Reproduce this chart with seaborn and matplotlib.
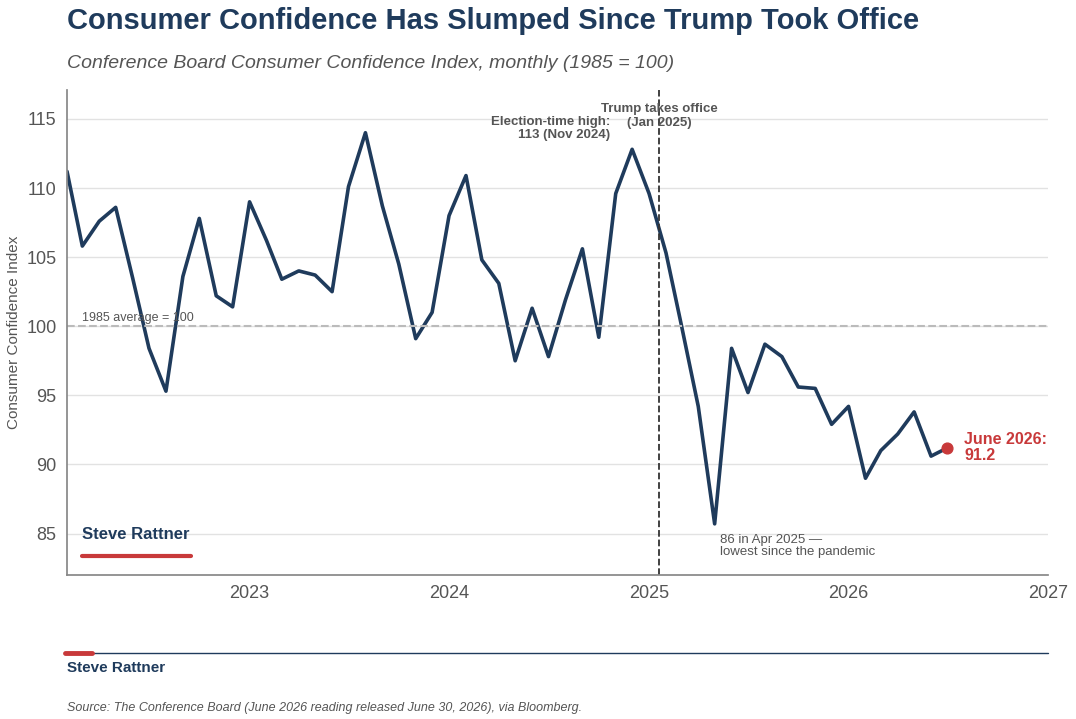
import pandas as pd
import numpy as np
import matplotlib.pyplot as plt
import matplotlib.dates as mdates
import seaborn as sns

NAVY = '#1f3b5c'
RED = '#c8393a'
GREY = '#555555'

# monthly readings, Feb 2022 onward
values = [111.2, 105.8, 107.6, 108.6, 103.5, 98.4, 95.3, 103.6, 107.8, 102.2, 101.4,
          109.0, 106.2, 103.4, 104.0, 103.7, 102.5, 110.1, 114.0, 108.7, 104.5, 99.1, 101.0,
          108.0, 110.9, 104.8, 103.1, 97.5, 101.3, 97.8, 101.9, 105.6, 99.2, 109.6, 112.8,
          109.6, 105.3, 100.1, 94.2, 85.7, 98.4, 95.2, 98.7, 97.8, 95.6, 95.5, 92.9,
          94.2, 89.0, 91.0, 92.2, 93.8, 90.6, 91.2]
dates = pd.date_range('2022-02-01', periods=len(values), freq='MS')
df = pd.DataFrame({'date': dates, 'index': values})

sns.set_theme(style='white')
plt.rcParams['font.family'] = ['Liberation Sans', 'DejaVu Sans']

fig = plt.figure(figsize=(10.76, 7.19), dpi=100)
ax = fig.add_axes([0.0623, 0.2003, 0.9117, 0.6747])

sns.lineplot(data=df, x='date', y='index', ax=ax, color=NAVY, linewidth=2.6)

ax.set_xlim(pd.Timestamp('2022-02-01'), pd.Timestamp('2027-01-01'))
ax.set_ylim(82.0, 117.1)
ax.set_yticks([85, 90, 95, 100, 105, 110, 115])
ax.xaxis.set_major_locator(mdates.YearLocator())
ax.xaxis.set_major_formatter(mdates.DateFormatter('%Y'))
ax.tick_params(axis='both', labelsize=13, colors='#555555', length=4)
ax.set_xlabel('')
ax.set_ylabel('Consumer Confidence Index', fontsize=11, color='#555555')
ax.grid(axis='y', color='#e2e2e2', linewidth=1)
for s in ['top', 'right']:
    ax.spines[s].set_visible(False)
for s in ['left', 'bottom']:
    ax.spines[s].set_color('#888888')

ax.axhline(100, color='#bbbbbb', linestyle='--', linewidth=1.5)
ax.text(pd.Timestamp('2022-03-01'), 100.4, '1985 average = 100', fontsize=9, color=GREY)

office = pd.Timestamp('2025-01-20')
ax.axvline(office, color='#333333', linestyle='--', linewidth=1.3)
ax.text(office, 114.5, 'Trump takes office\n(Jan 2025)', ha='center', fontsize=9.5,
        color=GREY, fontweight='bold', linespacing=1.15)
ax.text(pd.Timestamp('2024-10-22'), 113.6, 'Election-time high:\n113 (Nov 2024)', ha='right',
        fontsize=9.5, color=GREY, fontweight='bold', linespacing=1.15)
ax.text(pd.Timestamp('2025-05-10'), 85.0, '86 in Apr 2025 \u2014\nlowest since the pandemic',
        fontsize=9.5, color=GREY, va='top', linespacing=1.1)

ax.scatter(df['date'].iloc[-1], values[-1], color=RED, s=60, zorder=5)
ax.text(pd.Timestamp('2026-08-01'), values[-1], 'June 2026:\n91.2', color=RED,
        fontsize=11.5, fontweight='bold', va='center', linespacing=1.1)

ax.text(pd.Timestamp('2022-03-01'), 84.6, 'Steve Rattner', color=NAVY, fontsize=12, fontweight='bold')
ax.plot([pd.Timestamp('2022-03-01'), pd.Timestamp('2022-09-15')], [83.4, 83.4], color=RED, linewidth=3)

fig.text(67/1076, 1 - 21/719, 'Consumer Confidence Has Slumped Since Trump Took Office',
         fontsize=21, fontweight='bold', color=NAVY, va='center')
fig.text(67/1076, 1 - 63/719, 'Conference Board Consumer Confidence Index, monthly (1985 = 100)',
         fontsize=14, style='italic', color=GREY, va='center')

fig.add_artist(plt.Line2D([67/1076, 1048/1076], [1 - 653/719] * 2, color=NAVY, linewidth=1))
fig.add_artist(plt.Line2D([65/1076, 92/1076], [1 - 653/719] * 2, color=RED, linewidth=3.5))
fig.text(67/1076, 1 - 668/719, 'Steve Rattner', fontsize=11, fontweight='bold', color=NAVY, va='center')
fig.text(67/1076, 1 - 708/719, 'Source: The Conference Board (June 2026 reading released June 30, 2026), via Bloomberg.',
         fontsize=9, style='italic', color=GREY, va='center')

fig.savefig('out.png', dpi=100)
